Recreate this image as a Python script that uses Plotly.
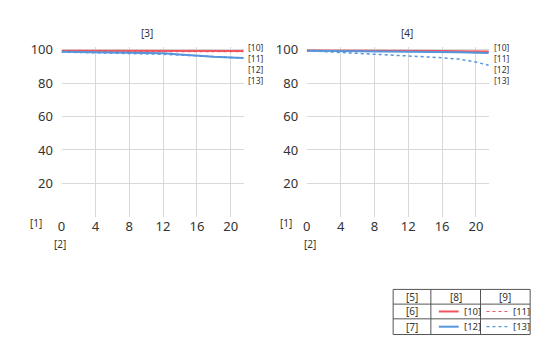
import plotly.graph_objects as go

x_vals = [0, 4, 8, 12, 14, 16, 18, 20, 21.5]

left_10 = [99.4, 99.4, 99.4, 99.3, 99.3, 99.3, 99.3, 99.2, 99.2]
left_11 = [99.1, 99.1, 99.1, 99.0, 99.0, 99.0, 99.0, 98.9, 98.9]
left_12 = [98.8, 98.6, 98.3, 97.9, 97.2, 96.4, 95.8, 95.4, 95.1]
left_13 = [98.6, 98.3, 97.8, 97.3, 96.8, 96.2, 95.7, 95.3, 95.0]

right_10 = [99.6, 99.6, 99.5, 99.4, 99.3, 99.2, 99.1, 99.0, 98.9]
right_11 = [99.5, 99.5, 99.4, 99.2, 99.1, 99.0, 98.9, 98.8, 98.7]
right_12 = [99.4, 99.3, 99.2, 99.0, 98.9, 98.7, 98.5, 98.2, 98.0]
right_13 = [99.4, 98.4, 97.0, 96.1, 95.7, 95.2, 94.4, 92.6, 90.7]

x_ticks = [0, 4, 8, 12, 16, 20]
y_ticks = [20, 40, 60, 80, 100]
x_grid = [4, 8, 12, 16, 20]
y_grid = [20, 40, 60, 80, 100]

series_labels = ["[10]", "[11]", "[12]", "[13]"]
panel_titles = ["[3]", "[4]"]
legend_header = ["[5]", "[8]", "[9]"]
legend_rows = ["[6]", "[7]"]

RED = "rgb(238,85,95)"
BLUE = "rgb(85,150,220)"
W, H = 550, 361
TXT = "#333333"
FONT = "Noto Sans"
DX, DY = -3, -4

fig = go.Figure()

styles = [(RED, "solid"), (RED, "dot"), (BLUE, "solid"), (BLUE, "dot")]
panels = [
    ("x", "y", [left_10, left_11, left_12, left_13]),
    ("x2", "y2", [right_10, right_11, right_12, right_13]),
]
for xa, ya, data in panels:
    for (col, dash), ys in zip(styles, data):
        fig.add_trace(go.Scatter(
            x=x_vals, y=ys, xaxis=xa, yaxis=ya, mode="lines",
            line=dict(color=col, dash=dash, width=2 if dash == "solid" else 1.5),
            showlegend=False, hoverinfo="skip"))

def px(v):
    return (v + DX) / W

def py(v):
    return 1 - (v + DY) / H

ydom = [py(218), py(45)]
xdoms = [[px(61), px(245)], [px(308), px(492)]]

def xax(dom, anchor):
    return dict(domain=dom, anchor=anchor, range=[0, 21.6], tickvals=x_ticks,
                showgrid=False, zeroline=False, showline=False,
                ticks="", ticklen=0,
                tickfont=dict(size=13, color=TXT, family=FONT),
                minor=dict(tickvals=x_grid, showgrid=True, gridcolor="#d9d9d9", gridwidth=1, ticks=""))

def yax(anchor):
    return dict(domain=ydom, anchor=anchor, range=[0, 101.5], tickvals=y_ticks,
                showgrid=False, zeroline=False, showline=False,
                ticks="outside", ticklen=5, tickcolor="rgba(0,0,0,0)",
                tickfont=dict(size=13, color=TXT, family=FONT),
                minor=dict(tickvals=y_grid, showgrid=True, gridcolor="#d9d9d9", gridwidth=1, ticks=""))

fig.update_layout(
    width=W, height=H, margin=dict(l=0, r=0, t=0, b=0),
    paper_bgcolor="white", plot_bgcolor="white",
    xaxis=xax(xdoms[0], "y"), yaxis=yax("x"),
    xaxis2=xax(xdoms[1], "y2"), yaxis2=yax("x2"),
)

ann = []
def text(xp, yp, s, size=10, xanchor="center"):
    ann.append(dict(x=px(xp), y=py(yp), xref="paper", yref="paper", text=s,
                    showarrow=False, xanchor=xanchor, yanchor="middle",
                    font=dict(size=size, color=TXT, family=FONT)))

text(147, 31, panel_titles[0])
text(409, 31, panel_titles[1])
for i, lab in enumerate(series_labels):
    text(247, 45 + i * 11.3, lab, size=8.5, xanchor="left")
    text(495, 45 + i * 11.3, lab, size=8.5, xanchor="left")
text(35, 224, "[1]")
text(287, 224, "[1]")
text(59, 246, "[2]")
text(311, 246, "[2]")

# legend table
shapes = []
x0, x1, x2, x3 = 395, 433, 483, 533
yr = [292, 307, 322, 338]
def pl(xa, ya, xb, yb, **kw):
    shapes.append(dict(type="line", xref="paper", yref="paper",
                       x0=px(xa), y0=py(ya), x1=px(xb), y1=py(yb), **kw))
border = dict(line=dict(color="#555555", width=1))
for yy in yr:
    pl(x0, yy, x3, yy, **border)
for xx in [x0, x1, x2, x3]:
    pl(xx, yr[0], xx, yr[-1], **border)

for xc, s in zip([(x0 + x1) / 2, (x1 + x2) / 2, (x2 + x3) / 2], legend_header):
    text(xc, (yr[0] + yr[1]) / 2, s)
for r, s in enumerate(legend_rows):
    yc = (yr[r + 1] + yr[r + 2]) / 2
    text((x0 + x1) / 2, yc, s)
    col = RED if r == 0 else BLUE
    pl(441, yc, 461, yc, line=dict(color=col, width=2))
    text(464, yc, series_labels[2 * r], size=9.5, xanchor="left")
    pl(489, yc, 510, yc, line=dict(color=col, width=1.2, dash="dot"))
    text(514, yc, series_labels[2 * r + 1], size=9.5, xanchor="left")

fig.update_layout(annotations=ann, shapes=shapes)
fig.write_html("out.html")
